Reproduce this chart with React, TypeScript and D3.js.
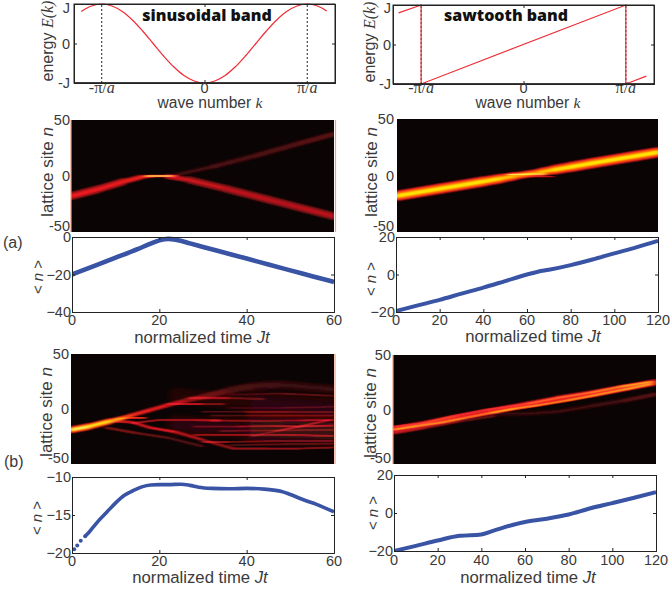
import React, { useEffect, useRef } from 'react';
import * as d3 from 'd3';

// band dispersions, k in units of pi/a and E in units of J
const sineK = [-1.2, -1.1, -1, -0.9, -0.8, -0.7, -0.6, -0.5, -0.4, -0.3, -0.2, -0.1, 0, 0.1, 0.2, 0.3, 0.4, 0.5, 0.6, 0.7, 0.8, 0.9, 1, 1.1, 1.19];
const sineE = [0.81, 0.95, 1, 0.95, 0.81, 0.59, 0.31, 0, -0.31, -0.59, -0.81, -0.95, -1, -0.95, -0.81, -0.59, -0.31, 0, 0.31, 0.59, 0.81, 0.95, 1, 0.95, 0.82];
const sawK = [-1.22, -1, -1, 1, 1, 1.2];
const sawE = [0.8, 1, -1, 1, -1, -0.8];

// mean position curves
const timeAL = [0, 5, 10, 15, 18, 20, 22, 24, 27, 30, 35, 40, 45, 50, 55, 60];
const meanAL = [-20, -15.5, -11, -6.5, -3.5, -1.8, -1, -1.6, -3.4, -5.3, -8.4, -11.5, -14.7, -17.8, -20.9, -24];
const timeAR = [0, 10, 20, 30, 40, 50, 60, 65, 70, 80, 90, 100, 110, 120];
const meanAR = [-19.5, -16.5, -13.5, -10.2, -7, -3.5, 0, 1.5, 2.5, 5, 8, 11.3, 14.5, 18];
const timeBL = [0.5, 1.2, 2, 3, 4, 5, 6, 8, 10, 12, 14, 16, 18, 20, 22, 25, 27, 29, 32, 36, 40, 44, 48, 50, 53, 56, 60];
const meanBL = [-19.5, -19, -18.4, -17.8, -17.2, -16.5, -15.8, -14.6, -13.4, -12.4, -11.8, -11.3, -11.05, -11, -11, -10.95, -11.1, -11.35, -11.5, -11.55, -11.5, -11.6, -11.9, -12.3, -13, -13.6, -14.6];
const timeBR = [0, 10, 20, 30, 40, 45, 50, 60, 70, 80, 90, 100, 110, 120];
const meanBR = [-20, -17.3, -14.5, -12, -11.3, -9.5, -7.7, -4.7, -3, -0.8, 2.5, 5.2, 8, 11];

// density ridges: [t, n, level, spread in n]
type Ridge = number[][];
const ridgesAL: Ridge[] = [
  [[0, -18, 0.46, 8], [6, -12, 0.46, 8], [12, -5, 0.46, 7], [16, -1, 0.5, 4], [19, 0, 0.6, 2.5], [24, 0, 0.5, 3]],
  [[17, 0, 0.95, 1.6], [20, 0, 1.1, 1.6], [23, 0, 0.95, 1.6]],
  [[22, -0.5, 0.4, 4], [27, -3.5, 0.38, 7], [35, -11, 0.36, 8], [45, -21, 0.34, 8], [53, -29, 0.34, 8], [60, -36, 0.36, 8]],
  [[24, 1, 0.08, 4], [32, 8, 0.11, 5], [42, 18, 0.12, 6], [52, 29, 0.13, 6], [60, 37.5, 0.16, 6]],
];
const ridgesAR: Ridge[] = [
  [[0, -18, 0.95, 10], [20, -11.6, 0.95, 10], [40, -5.2, 0.95, 10], [48, -2.6, 0.92, 9], [54, -0.6, 0.86, 8], [60, 1.2, 0.8, 6.5], [66, 3, 0.86, 8], [72, 5, 0.92, 9], [80, 7.6, 0.95, 10], [90, 11, 0.95, 10], [110, 17.4, 0.95, 10], [120, 20.6, 0.95, 10]],
  [[51, 0.8, 1, 1.4], [60, 1.2, 1.15, 1.6], [68, 1.3, 0.95, 1.2]],
  [[62, -1, 0.5, 1], [72, -1, 0.42, 1]],
];
const ridgesBL: Ridge[] = [
  [[0, -19, 1, 7], [4, -16, 1, 7], [9, -11, 0.92, 5.5], [12, -8, 0.75, 4.5], [14, -5.5, 0.52, 4.5], [18, -1, 0.48, 4.5], [22, 3.5, 0.42, 4.5], [26, 7.5, 0.3, 5], [30, 11, 0.2, 6], [36, 17, 0.13, 8], [42, 21, 0.1, 9], [48, 22, 0.09, 9], [60, 18, 0.06, 9]],
  [[10, -9.5, 0.55, 1.6], [13, -8, 0.75, 1.6], [17, -8, 0.5, 1.4]],
  [[9, -11, 0.4, 3], [14, -12, 0.42, 3], [18, -17, 0.46, 3], [24, -21, 0.42, 3], [30, -28, 0.3, 3], [37, -36, 0.26, 3], [45, -36, 0.3, 2], [52, -36, 0.28, 2], [60, -35, 0.2, 2]],
  [[8, -17, 0.26, 3], [15, -22, 0.18, 3], [22, -26, 0.14, 3], [30, -34, 0.12, 3]],
  [[14, -13, 0.32, 2], [20, -10, 0.32, 2], [28, -10, 0.3, 2.5], [34, -10.5, 0.34, 2.5]],
  [[22, 4.5, 0.46, 1.6], [30, 4.5, 0.44, 1.6], [35, 4.5, 0.05, 1.6]],
  [[27, 10, 0.36, 3], [36, 10, 0.28, 2.5], [44, 9, 0.04, 2.5]],
  [[30, -2.5, 0.04, 2], [40, -2.5, 0.22, 2], [50, -2.5, 0.22, 2], [60, -3, 0.14, 2]],
  [[32, -10.5, 0.3, 2], [44, -10.7, 0.2, 2], [52, -10.5, 0.26, 2], [60, -10, 0.36, 2]],
  [[28, -16, 0.05, 2], [38, -16, 0.26, 2], [46, -15.5, 0.28, 2], [52, -16, 0.42, 1.8], [60, -15, 0.34, 2]],
  [[28, -23.5, 0.28, 2], [38, -23.5, 0.3, 2], [48, -23.5, 0.3, 2], [60, -24.5, 0.34, 2]],
  [[30, -30, 0.38, 1.8], [36, -30, 0.3, 1.8], [48, -29, 0.1, 2], [60, -29, 0.28, 2]],
  [[41, -25, 0.05, 2], [47, -20, 0.3, 2], [52, -16, 0.4, 1.8], [59, -10, 0.3, 2]],
  [[36, 1, 0.04, 2], [48, 1, 0.12, 2], [60, 2, 0.08, 2]],
  [[36, 13, 0.04, 2], [48, 14, 0.14, 2], [60, 12, 0.14, 2]],
  [[32, -6, 0.12, 2], [44, -6, 0.14, 2], [60, -6, 0.18, 2]],
  [[34, -20, 0.16, 2], [46, -19.5, 0.16, 2], [60, -19, 0.18, 2]],
  [[36, -33, 0.12, 2], [48, -32, 0.14, 2], [60, -31.5, 0.12, 2]],
  [[24, 12, 0.02, 8], [42, 5, 0.05, 24], [60, 0, 0.05, 30]],
  [[24, -15, 0.03, 12], [42, -18, 0.07, 30], [60, -20, 0.09, 32]],
];
const ridgesBR: Ridge[] = [
  [[0, -18.5, 0.5, 7], [14, -13.5, 0.5, 7], [29, -7.5, 0.46, 7], [44, -2, 0.46, 6], [60, 4, 0.5, 7], [75, 9.5, 0.46, 7], [91, 14.5, 0.5, 8], [106, 20, 0.5, 7], [120, 25, 0.54, 7]],
  [[0, -18.5, 0.95, 3], [10, -15.5, 0.72, 2.5], [22, -12, 0.9, 3], [32, -8, 0.72, 2.5], [45, -3, 0.8, 2.5], [56, 1, 0.95, 3], [66, 3.8, 0.66, 2.5], [80, 8.5, 0.9, 3], [92, 13, 0.75, 2.5], [106, 18.5, 0.9, 3], [118, 23.5, 0.78, 3]],
  [[0, -16, 0.55, 2.5], [14, -12.5, 0.5, 2.5], [28, -6, 0.7, 2.5], [42, -0.5, 0.3, 2.5], [62, 5.5, 0.75, 2.5], [76, 11, 0.62, 2.5], [90, 15.5, 0.82, 2.5], [104, 21, 0.76, 2.5], [118, 25.5, 0.95, 3]],
  [[0, -22, 0.36, 3], [14, -17, 0.3, 3], [30, -11, 0.2, 3], [46, -6, 0.12, 3]],
  [[44, -4, 0.05, 5], [60, -4, 0.07, 5], [75, -2, 0.08, 4], [90, 3, 0.08, 5], [105, 8, 0.1, 5], [120, 14, 0.16, 5]],
];

const bandTicks = [-1, 0, 1];
const bandTickLabels = ['-J', '0', 'J'];
const siteTicks = [-50, 0, 50];
const meanTicksAL = [-40, -20, 0];
const meanTicksAR = [-20, 0, 20];
const meanTicksBL = [-20, -15, -10];
const timeTicksL = [0, 20, 40, 60];
const timeTicksR = [0, 20, 40, 60, 80, 100, 120];

const SANS = '"Liberation Sans", Arial, sans-serif';
const SERIF = '"Liberation Serif", serif';
const TXT = '#3a3a3a';
const RED = '#ee2c34';
const BLUE = '#3a54a5';

const hot = d3.scaleLinear<string>()
  .domain([0, 0.12, 0.42, 0.7, 0.9, 1.05])
  .range(['#0a0404', '#4a0a0c', '#e8141c', '#ff6a00', '#ffe000', '#ffffff'])
  .clamp(true);

// strokes stacked from wide and dim to narrow and bright, giving the colormap falloff
const layers = [[1, 0.2], [0.85, 0.42], [0.7, 0.62], [0.5, 0.78], [0.3, 0.95]];

type Sel = d3.Selection<any, unknown, null, undefined>;

function label(svg: Sel, x: number, y: number, parts: (string | [string, string])[], size: number, rotate = false, anchor = 'middle') {
  const t = svg.append('text')
    .attr('text-anchor', anchor)
    .attr('font-size', size)
    .attr('font-family', SANS)
    .attr('fill', TXT)
    .attr('transform', `translate(${x},${y})${rotate ? ' rotate(-90)' : ''}`);
  parts.forEach((p) => {
    if (typeof p === 'string') t.append('tspan').text(p);
    else t.append('tspan').attr('font-family', p[1]).attr('font-style', 'italic').text(p[0]);
  });
}

function axes(g: Sel, x: any, y: any, xTicks: number[], yTicks: number[], tickLen = 3) {
  const [x0, x1] = x.range();
  const [y0, y1] = y.range();
  const parts = [
    [d3.axisBottom(x).tickValues(xTicks).tickSize(-tickLen), 0, y0],
    [d3.axisTop(x).tickValues(xTicks).tickSize(-tickLen), 0, y1],
    [d3.axisLeft(y).tickValues(yTicks).tickSize(-tickLen), x0, 0],
    [d3.axisRight(y).tickValues(yTicks).tickSize(-tickLen), x1, 0],
  ] as [any, number, number][];
  parts.forEach(([axis, tx, ty]) => {
    const a = g.append('g').attr('transform', `translate(${tx},${ty})`).call(axis);
    a.selectAll('text').remove();
    a.selectAll('path,line').attr('stroke', '#222');
  });
}

function tickText(g: Sel, values: number[], scale: any, fixed: number, horizontal: boolean, fmt: (v: number) => string, minY = 0, maxY = 9999) {
  values.forEach((v) => {
    g.append('text')
      .attr('x', horizontal ? scale(v) : fixed)
      .attr('y', horizontal ? fixed : Math.min(maxY, Math.max(minY, scale(v) + 5)))
      .attr('text-anchor', horizontal ? 'middle' : 'end')
      .attr('font-size', 14.5)
      .attr('font-family', SANS)
      .attr('fill', TXT)
      .text(fmt(v));
  });
}

function bandPanel(svg: Sel, box: number[], xlim: number, ks: number[], es: number[], curve: any, tickX: number) {
  const [l, t, r, b] = box;
  const x = d3.scaleLinear().domain([-xlim, xlim]).range([l, r]);
  const y = d3.scaleLinear().domain([-1, 1]).range([b, t]);
  const g = svg.append('g');
  [-1, 1].forEach((k) => {
    g.append('line').attr('x1', x(k)).attr('x2', x(k)).attr('y1', y(-1)).attr('y2', y(1))
      .attr('stroke', '#222').attr('stroke-dasharray', '2 2');
  });
  g.append('path')
    .attr('d', d3.line<number>().x((d) => x(d)).y((_, i) => y(es[i])).curve(curve)(ks))
    .attr('fill', 'none').attr('stroke', RED).attr('stroke-width', 1.2);
  g.append('rect').attr('x', l).attr('y', t).attr('width', r - l).attr('height', b - t)
    .attr('fill', 'none').attr('stroke', '#222');
  g.append('line').attr('x1', l).attr('x2', r).attr('y1', b).attr('y2', b).attr('stroke', '#222').attr('stroke-width', 1.6);
  axes(g, x, y, [0], bandTicks);
  tickText(g, bandTicks, y, tickX, false, (v) => bandTickLabels[bandTicks.indexOf(v)], 13);
  // pi/a labels are typeset in a serif face
  [[-1, '-π/'], [1, 'π/']].forEach(([k, s]) => {
    const tx = g.append('text').attr('x', x(k as number)).attr('y', 93).attr('text-anchor', 'middle')
      .attr('font-size', 16).attr('font-family', SERIF).attr('fill', TXT);
    tx.append('tspan').text(s as string);
    tx.append('tspan').attr('font-style', 'italic').text('a');
  });
  g.append('text').attr('x', x(0)).attr('y', 93).attr('text-anchor', 'middle')
    .attr('font-size', 14.5).attr('font-family', SANS).attr('fill', TXT).text('0');
}

function heatPanel(svg: Sel, id: string, box: number[], tMax: number, ridges: Ridge[], tickX: number, edges: number[]) {
  const [l, t, r, b] = box;
  const x = d3.scaleLinear().domain([0, tMax]).range([l, r]);
  const y = d3.scaleLinear().domain([-50, 50]).range([b, t]);
  const pxPerN = (b - t) / 100;
  svg.append('clipPath').attr('id', id).append('rect')
    .attr('x', l).attr('y', t).attr('width', r - l).attr('height', b - t);
  const g = svg.append('g').attr('clip-path', `url(#${id})`).style('isolation', 'isolate');
  g.append('rect').attr('x', l).attr('y', t).attr('width', r - l).attr('height', b - t).attr('fill', hot(0));
  ridges.forEach((ridge) => {
    const rg = g.append('g').attr('filter', 'url(#soft)').style('mix-blend-mode', 'screen');
    layers.forEach(([wf, lf]) => {
      d3.pairs(ridge).forEach(([p, q]) => {
        rg.append('line')
          .attr('x1', x(p[0])).attr('y1', y(p[1]))
          .attr('x2', x(q[0])).attr('y2', y(q[1]))
          .attr('stroke', hot(((p[2] + q[2]) / 2) * lf))
          .attr('stroke-width', (((p[3] + q[3]) / 2) * wf * pxPerN))
          .attr('stroke-linecap', 'round');
      });
    });
  });
  edges.forEach((ex) => {
    svg.append('line').attr('x1', ex).attr('x2', ex).attr('y1', t).attr('y2', b)
      .attr('stroke', '#f0a080').attr('stroke-width', 1.2);
  });
  // the lowest label sits just above the panel's bottom edge
  tickText(svg, siteTicks, y, tickX, false, (v) => String(v), 0, b - 1);
}

function meanPanel(svg: Sel, box: number[], tMax: number, yDomain: number[], yTicks: number[], xTicks: number[], ts: number[], ms: number[], tickX: number, tickY: number, lineWidth: number, dotsUntil = 0) {
  const [l, t, r, b] = box;
  const x = d3.scaleLinear().domain([0, tMax]).range([l, r]);
  const y = d3.scaleLinear().domain(yDomain).range([b, t]);
  const id = `mean${l}${t}`;
  svg.append('clipPath').attr('id', id).append('rect')
    .attr('x', l).attr('y', t - 1).attr('width', r - l + 1).attr('height', b - t + 2);
  const idx = ts.map((_, i) => i);
  const line = d3.line<number>().x((i) => x(ts[i])).y((i) => y(ms[i])).curve(d3.curveMonotoneX);
  const g = svg.append('g').attr('clip-path', `url(#${id})`);
  g.append('path').attr('d', line(idx.filter((i) => ts[i] >= dotsUntil)))
    .attr('fill', 'none').attr('stroke', BLUE).attr('stroke-width', lineWidth);
  idx.filter((i) => ts[i] <= dotsUntil).forEach((i) => {
    g.append('circle').attr('cx', x(ts[i])).attr('cy', y(ms[i])).attr('r', 2).attr('fill', BLUE);
  });
  const frame = svg.append('g');
  axes(frame, x, y, xTicks, yTicks);
  tickText(frame, yTicks, y, tickX, false, d3.format('d'));
  tickText(frame, xTicks, x, tickY, true, (v) => String(v));
}

export default function App() {
  const svgRef = useRef<SVGSVGElement>(null);

  useEffect(() => {
    const svg: Sel = d3.select(svgRef.current as SVGSVGElement);
    svg.selectAll('*').remove();
    // blur mostly along time, the reference's pixels are stretched that way
    svg.append('filter').attr('id', 'soft')
      .attr('filterUnits', 'userSpaceOnUse')
      .attr('x', 0).attr('y', 0).attr('width', 670).attr('height', 591)
      .append('feGaussianBlur').attr('stdDeviation', '2.5 0.7');

    // band structure row
    bandPanel(svg, [74, 4, 335, 83], 1.27, sineK, sineE, d3.curveCatmullRom, 70);
    bandPanel(svg, [393, 5, 654, 84], 1.275, sawK, sawE, d3.curveLinear, 391);
    label(svg, 53, 41, ['energy ', ['E', SERIF], ['(k)', SERIF]], 16, true);
    label(svg, 375, 42, ['energy ', ['E', SERIF], ['(k)', SERIF]], 16, true);
    label(svg, 210, 108, ['wave number ', ['k', SERIF]], 15.6);
    label(svg, 528, 108, ['wave number ', ['k', SERIF]], 15.6);
    svg.append('text').attr('x', 207).attr('y', 21).attr('text-anchor', 'middle')
      .attr('font-family', '"Open Sans", sans-serif').attr('font-weight', 800).attr('font-size', 16)
      .attr('fill', '#111').text('sinusoidal band');
    svg.append('text').attr('x', 506).attr('y', 21).attr('text-anchor', 'middle')
      .attr('font-family', '"Open Sans", sans-serif').attr('font-weight', 800).attr('font-size', 16)
      .attr('fill', '#111').text('sawtooth band');

    // (a) row
    heatPanel(svg, 'heatAL', [71, 120, 334, 232], 60, ridgesAL, 70, [71, 335.5]);
    heatPanel(svg, 'heatAR', [397, 119, 658, 232], 120, ridgesAR, 394, []);
    meanPanel(svg, [72, 237, 334, 312], 60, [-40, 0], meanTicksAL, timeTicksL, timeAL, meanAL, 71, 325, 4.6);
    meanPanel(svg, [396, 237, 658, 312], 120, [-20, 20], meanTicksAR, timeTicksR, timeAR, meanAR, 395, 325, 4);
    label(svg, 53, 172, ['lattice site ', ['n', SANS]], 17, true);
    label(svg, 377, 172, ['lattice site ', ['n', SANS]], 17, true);
    label(svg, 43, 277, ['< ', ['n', SANS], ' >'], 15, true);
    label(svg, 376, 279, ['< ', ['n', SANS], ' >'], 15, true);
    label(svg, 202, 343, ['normalized time ', ['Jt', SANS]], 16.7);
    label(svg, 533, 342, ['normalized time ', ['Jt', SANS]], 16.7);
    label(svg, 3, 248, ['(a)'], 16, false, 'start');

    // (b) row
    heatPanel(svg, 'heatBL', [71, 354, 334, 464], 60, ridgesBL, 69, [335]);
    heatPanel(svg, 'heatBR', [393, 355, 656, 464], 120, ridgesBR, 391, [393]);
    meanPanel(svg, [72, 477, 334, 553], 60, [-20, -10], meanTicksBL, timeTicksL, timeBL, meanBL, 71, 566, 3.6, 3);
    meanPanel(svg, [394, 475, 656, 551], 120, [-20, 20], meanTicksAR, timeTicksR, timeBR, meanBR, 393, 565, 4);
    label(svg, 52, 412, ['lattice site ', ['n', SANS]], 17, true);
    label(svg, 376, 413, ['lattice site ', ['n', SANS]], 17, true);
    label(svg, 42, 518, ['< ', ['n', SANS], ' >'], 15, true);
    label(svg, 378, 513, ['< ', ['n', SANS], ' >'], 15, true);
    label(svg, 200, 583, ['normalized time ', ['Jt', SANS]], 16.7);
    label(svg, 528, 583, ['normalized time ', ['Jt', SANS]], 16.7);
    label(svg, 4, 467, ['(b)'], 16, false, 'start');
  }, []);

  return (
    <svg
      ref={svgRef}
      width={670}
      height={591}
      style={{ position: 'absolute', left: 0, top: 0, background: '#fff' }}
    />
  );
}
